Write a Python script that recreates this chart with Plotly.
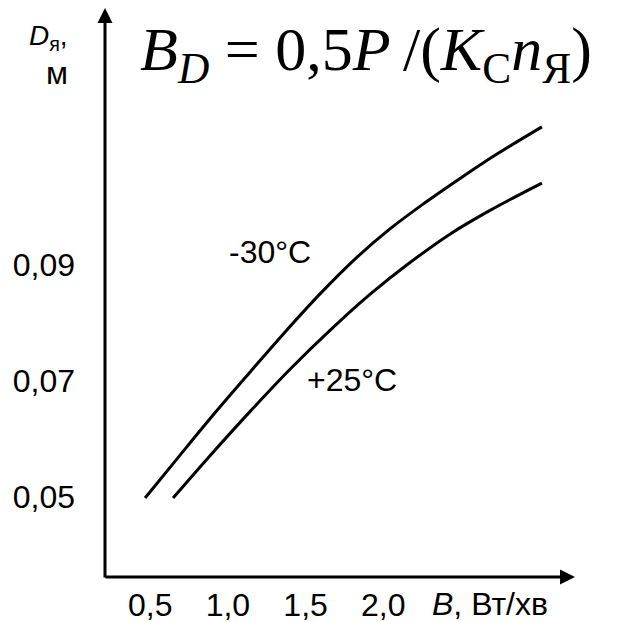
import plotly.graph_objects as go

# ---- data ----
x_cold = [0.467, 0.692, 0.917, 1.142, 1.367, 1.593, 1.818, 2.043, 2.268, 2.494, 2.719, 3.021]
y_cold = [0.0497, 0.0571, 0.0644, 0.0714, 0.0783, 0.0849, 0.0909, 0.0961, 0.1006, 0.1048, 0.1088, 0.1137]

x_warm = [0.647, 0.885, 1.142, 1.400, 1.657, 1.914, 2.172, 2.429, 2.687, 3.021]
y_warm = [0.0497, 0.0570, 0.0646, 0.0719, 0.0786, 0.0848, 0.0903, 0.0952, 0.0993, 0.1040]

series_names = ["-30°C", "+25°C"]
label_x = [1.271, 1.799]
label_y = [0.0921, 0.0701]

x_tick_vals = [0.5, 1.0, 1.5, 2.0]
x_tick_text = ["0,5", "1,0", "1,5", "2,0"]
y_tick_vals = [0.05, 0.07, 0.09]
y_tick_text = ["0,05", "0,07", "0,09"]

x_title = "<i>B</i>, Вт/хв"
x_title_pos = 2.69
y_title_1 = "<i>D</i><sub>я</sub>,"
y_title_2 = "м"
formula = "<i>B</i><sub><i>D</i></sub> = 0,5<i>P</i>\u2009/(<i>K</i><sub>С</sub><i>n</i><sub>Я</sub>)"

SANS = "Liberation Sans, Arial, sans-serif"
SERIF = "Liberation Serif, Times New Roman, serif"
FS = 32

fig = go.Figure()
for xs, ys, nm in [(x_cold, y_cold, series_names[0]), (x_warm, y_warm, series_names[1])]:
    fig.add_trace(go.Scatter(x=xs, y=ys, mode="lines", name=nm,
                             line=dict(color="black", width=3, shape="spline", smoothing=1.0)))

for t, lx, ly in zip(series_names, label_x, label_y):
    fig.add_annotation(x=lx, y=ly, xref="x", yref="y", text=t, showarrow=False,
                       font=dict(family=SANS, size=FS, color="black"))

# axes with arrowheads
fig.add_annotation(x=1, y=0, xref="paper", yref="paper", ax=-471, ay=0, text="",
                   showarrow=True, arrowhead=2, arrowsize=1, arrowwidth=3, arrowcolor="black")
fig.add_annotation(x=0, y=1, xref="paper", yref="paper", ax=0, ay=571, text="",
                   showarrow=True, arrowhead=2, arrowsize=1, arrowwidth=3, arrowcolor="black")

# axis titles
fig.add_annotation(x=x_title_pos, y=0, xref="x", yref="paper", yanchor="middle", yshift=-27,
                   borderpad=0, text=x_title, showarrow=False,
                   font=dict(family=SANS, size=FS, color="black"))
fig.add_annotation(x=0, y=1, xref="paper", yref="paper", xanchor="right", yanchor="top",
                   xshift=-35, yshift=-10, text=y_title_1, showarrow=False,
                   font=dict(family=SANS, size=28, color="black"))
fig.add_annotation(x=0, y=1, xref="paper", yref="paper", xanchor="center", yanchor="top",
                   xshift=-48, yshift=-45, text=y_title_2, showarrow=False,
                   font=dict(family=SANS, size=FS, color="black"))

# formula
fig.add_annotation(x=0.555, y=1, xref="paper", yref="paper", xanchor="center", yanchor="top",
                   yshift=-5, text=formula, showarrow=False,
                   font=dict(family=SERIF, size=62, color="black"))

fig.update_layout(
    width=621, height=622,
    margin=dict(l=105, r=46, t=8, b=45),
    paper_bgcolor="white", plot_bgcolor="white",
    showlegend=False,
    xaxis=dict(range=[0.209, 3.234], showgrid=False, zeroline=False, showline=False,
               tickvals=x_tick_vals, ticktext=x_tick_text, ticks="", automargin=False,
               ticklabelstandoff=6,
               tickfont=dict(family=SANS, size=FS, color="black")),
    yaxis=dict(range=[0.03609, 0.13419], showgrid=False, zeroline=False, showline=False,
               tickvals=y_tick_vals, ticktext=y_tick_text, ticks="", automargin=False,
               ticklabelstandoff=29,
               tickfont=dict(family=SANS, size=FS, color="black")),
)

fig.write_html("out.html", config={"displayModeBar": False},
               post_script="document.body.style.margin='0';document.body.style.overflow='hidden';")
